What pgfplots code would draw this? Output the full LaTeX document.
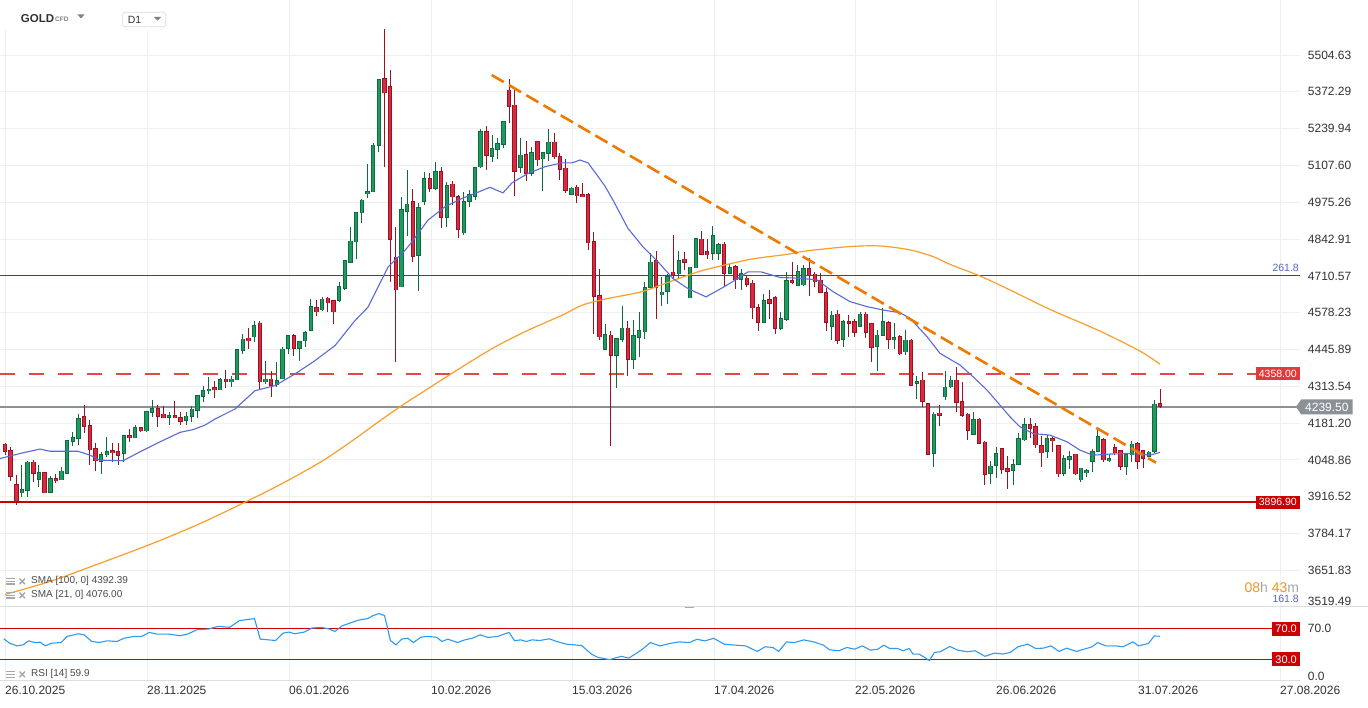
\documentclass[border=0pt]{standalone}
\usepackage{fontspec}
\setmainfont{Liberation Sans}
\usepackage{pgfplots}
\pgfplotsset{compat=1.18}
\usepackage{pgfplotstable}
\usetikzlibrary{shapes.symbols}
\definecolor{gbody}{HTML}{1E9A60}
\definecolor{gedge}{HTML}{0D6B3E}
\definecolor{rbody}{HTML}{DA2A3F}
\definecolor{redge}{HTML}{9A1222}
\definecolor{smablue}{HTML}{5A6AD6}
\definecolor{smaorange}{HTML}{FA9E2A}
\definecolor{trendorange}{HTML}{F07A00}
\definecolor{rsiblue}{HTML}{2E9BF0}
\definecolor{fibnavy}{HTML}{34439A}
\definecolor{fibtext}{HTML}{5566C8}
\definecolor{pricegrey}{HTML}{8A9297}
\definecolor{lvlred}{HTML}{CC0000}
\definecolor{dashred}{HTML}{E24848}
\definecolor{boxred}{HTML}{E23A3A}
\definecolor{gridgrey}{HTML}{EFEFEF}
\definecolor{sepgrey}{HTML}{DDDDDD}
\definecolor{tickgrey}{HTML}{333333}
\definecolor{legtext}{HTML}{4A4A4A}
\definecolor{iconGrey}{HTML}{A8A8A8}
\definecolor{timerorange}{HTML}{F7931E}

\pgfplotstableread{
o h l c
4106 4110 4066 4078
4084 4096 3974 3988
3960 3994 3888 3898
3930 4030 3916 3944
3938 4044 3916 4042
4042 4048 3970 4000
3978 4030 3952 4004
4004 4004 3930 3930
3932 3990 3930 3983
3983 4000 3966 3974
3976 4022 3976 4010
4000 4122 4000 4120
4114 4150 4098 4130
4126 4214 4102 4198
4206 4246 4146 4168
4174 4192 4030 4084
4090 4108 4010 4044
4042 4077 4000 4068
4066 4130 4060 4080
4084 4108 4042 4074
4080 4108 4030 4064
4072 4140 4042 4138
4138 4160 4114 4128
4128 4174 4126 4166
4166 4168 4150 4152
4152 4224 4150 4224
4218 4266 4204 4234
4234 4246 4166 4204
4214 4242 4198 4199
4202 4222 4176 4210
4210 4262 4198 4199
4202 4222 4176 4186
4190 4222 4174 4208
4204 4242 4184 4232
4226 4284 4198 4282
4276 4316 4256 4300
4296 4348 4286 4305
4310 4334 4270 4300
4300 4344 4300 4338
4340 4372 4308 4328
4328 4352 4310 4340
4336 4448 4336 4446
4442 4500 4430 4484
4488 4524 4448 4476
4490 4550 4472 4532
4542 4548 4304 4328
4328 4404 4322 4340
4340 4370 4274 4316
4318 4402 4310 4334
4340 4454 4340 4448
4448 4498 4430 4496
4496 4502 4424 4448
4450 4478 4406 4476
4476 4514 4454 4508
4514 4628 4514 4600
4598 4624 4568 4580
4588 4636 4586 4628
4632 4634 4580 4612
4622 4624 4538 4580
4622 4688 4616 4672
4664 4768 4660 4766
4758 4888 4756 4836
4832 4940 4770 4938
4936 4987 4900 4984
5004 5112 4990 5014
5012 5188 5012 5182
5178 5418 5156 5416
5420 5598 5102 5368
5392 5450 4688 4842
4779 4886 4401 4659
4670 4994 4670 4950
4941 5091 4853 4969
4979 5023 4761 4779
4783 4973 4657 4957
4977 5085 4967 5061
5061 5079 5013 5025
5025 5119 5019 5087
5087 5101 4881 4921
4921 5049 4887 5037
5041 5051 4965 4993
4997 5001 4845 4877
4865 5013 4857 4979
4977 5021 4959 5003
4995 5103 4985 5101
5101 5239 5097 5231
5231 5249 5091 5143
5139 5217 5121 5169
5165 5205 5131 5187
5183 5267 5169 5267
5379 5419 5261 5319
5325 5379 4997 5085
5099 5205 5079 5145
5147 5195 5053 5079
5079 5173 5069 5155
5195 5195 5105 5127
5131 5155 5017 5155
5151 5237 5125 5193
5193 5225 5131 5137
5141 5151 5055 5093
5099 5129 5009 5017
5003 5031 5001 5027
5031 5037 4971 4997
5003 5043 4995 4995
5003 5007 4803 4829
4835 4867 4503 4635
4641 4735 4479 4491
4445 4537 4445 4501
4499 4511 4099 4423
4423 4487 4309 4485
4481 4601 4473 4523
4523 4549 4351 4409
4409 4551 4377 4497
4489 4581 4419 4515
4509 4689 4485 4669
4669 4793 4669 4761
4767 4799 4557 4669
4641 4705 4601 4653
4653 4717 4611 4709
4725 4857 4701 4713
4717 4799 4701 4767
4771 4795 4731 4759
4631 4743 4631 4743
4739 4845 4739 4845
4843 4871 4785 4787
4799 4843 4771 4785
4791 4889 4769 4857
4791 4829 4767 4823
4825 4833 4673 4719
4719 4755 4717 4741
4745 4749 4663 4695
4697 4735 4661 4719
4703 4713 4669 4679
4685 4695 4555 4595
4597 4609 4511 4543
4543 4647 4543 4623
4627 4661 4557 4611
4633 4637 4503 4521
4521 4581 4515 4557
4553 4725 4549 4695
4695 4761 4683 4685
4675 4749 4675 4727
4677 4749 4675 4737
4738 4774 4640 4714
4718 4726 4672 4688
4696 4720 4648 4650
4652 4666 4514 4542
4528 4584 4480 4570
4574 4588 4466 4478
4482 4552 4456 4548
4548 4570 4492 4538
4548 4556 4492 4506
4528 4580 4528 4574
4574 4580 4486 4506
4540 4542 4402 4452
4456 4516 4370 4498
4496 4594 4494 4548
4544 4550 4448 4482
4480 4540 4446 4490
4494 4498 4426 4430
4436 4516 4426 4480
4480 4484 4316 4316
4324 4350 4268 4332
4336 4364 4240 4258
4252 4254 4066 4068
4072 4220 4024 4214
4218 4246 4172 4208
4274 4368 4264 4312
4310 4350 4308 4336
4336 4384 4222 4254
4260 4328 4204 4208
4214 4216 4120 4154
4140 4220 4138 4194
4196 4198 4106 4108
4114 4116 3960 3996
4000 4044 3964 4028
4028 4096 3984 4072
4090 4090 4000 4014
4018 4062 3946 4006
4010 4054 3958 4032
4032 4146 4032 4126
4120 4198 4116 4176
4176 4200 4126 4162
4170 4180 4092 4102
4102 4134 4024 4074
4078 4138 4056 4126
4126 4132 4078 4118
4102 4102 3988 3998
4000 4066 3990 4054
4050 4080 4018 4062
4070 4070 3994 3998
3976 4020 3970 4020
4002 4018 3986 4012
4042 4090 4006 4080
4078 4168 4078 4134
4122 4126 4042 4048
4046 4070 4042 4054
4094 4106 4066 4074
4084 4084 4012 4024
4024 4074 3996 4068
4066 4118 4042 4106
4108 4114 4018 4042
4084 4084 4020 4054
4060 4082 4058 4078
4078 4266 4074 4250
4252 4304 4234 4240
}\candles

\pgfplotsset{
  wick/.style={draw=none, mark=none, forget plot,
    error bars/.cd, y dir=both, y explicit, error mark=none,
    error bar style={line width=1pt, color=#1}},
  body/.style 2 args={draw=none, mark=none, forget plot,
    error bars/.cd, y dir=both, y explicit, error mark=none,
    error bar style={line width=#2, color=#1}},
}

\begin{document}
\begin{tikzpicture}[x=1pt,y=1pt]
\path[use as bounding box, fill=white] (0pt,0pt) rectangle (1368pt,707pt);

% ---------------- price panel ----------------
\begin{axis}[
  at={(0pt,100.7pt)}, anchor=south west, scale only axis,
  width=1300pt, height=606.3pt,
  xmin=0, xmax=1300, ymin=3522.7, ymax=5702.4,
  clip=false,
  axis line style={draw=none},
  tick style={draw=none}, major tick length=0pt,
  xtick={5,147,289,431,572,714,855,996,1138,1280},
  xticklabels={},
  ytick={3651.83,3784.17,3916.52,4048.86,4181.20,4313.54,4445.89,4578.23,4710.57,4842.91,4975.26,5107.60,5239.94,5372.29,5504.63},
  yticklabels={3651.83,3784.17,3916.52,4048.86,4181.20,4313.54,4445.89,4578.23,4710.57,4842.91,4975.26,5107.60,5239.94,5372.29,5504.63},
  yticklabel pos=right,
  yticklabel style={anchor=west, inner sep=0pt, xshift=7.7pt,
    font=\fontsize{12}{14}\selectfont, text=tickgrey},
  xmajorgrids, ymajorgrids,
  grid style={gridgrey, line width=1pt},
]
% horizontal levels
\addplot[fibnavy, line width=1.2pt, forget plot] coordinates {(0,4710.57) (1300,4710.57)};
\addplot[dashred, line width=1.2pt, dash pattern=on 15pt off 14pt, forget plot] coordinates {(0,4358) (1300,4358)};
\addplot[pricegrey, line width=1.2pt, forget plot] coordinates {(0,4239.5) (1300,4239.5)};
\addplot[lvlred, line width=1.6pt, forget plot] coordinates {(0,3896.9) (1300,3896.9)};

% candles: wicks
\addplot[wick=gedge] table[x expr={5+\coordindex*5.663},
  y expr={(\thisrow{h}+\thisrow{l})/2}, y error expr={(\thisrow{h}-\thisrow{l})/2},
  restrict expr to domain={\thisrow{c}-\thisrow{o}}{0:100000}] {\candles};
\addplot[wick=redge] table[x expr={5+\coordindex*5.663},
  y expr={(\thisrow{h}+\thisrow{l})/2}, y error expr={(\thisrow{h}-\thisrow{l})/2},
  restrict expr to domain={\thisrow{c}-\thisrow{o}}{-100000:-0.5}] {\candles};
% candles: bodies
\addplot[body={gedge}{4.4pt}] table[x expr={5+\coordindex*5.663},
  y expr={(\thisrow{o}+\thisrow{c})/2}, y error expr={abs(\thisrow{c}-\thisrow{o})/2+0.6},
  restrict expr to domain={\thisrow{c}-\thisrow{o}}{0:100000}] {\candles};
\addplot[body={gbody}{2.4pt}] table[x expr={5+\coordindex*5.663},
  y expr={(\thisrow{o}+\thisrow{c})/2}, y error expr={abs(\thisrow{c}-\thisrow{o})/2-1.5},
  restrict expr to domain={\thisrow{c}-\thisrow{o}}{3:100000}] {\candles};
\addplot[body={redge}{4.4pt}] table[x expr={5+\coordindex*5.663},
  y expr={(\thisrow{o}+\thisrow{c})/2}, y error expr={abs(\thisrow{c}-\thisrow{o})/2+0.6},
  restrict expr to domain={\thisrow{c}-\thisrow{o}}{-100000:-0.5}] {\candles};
\addplot[body={rbody}{2.4pt}] table[x expr={5+\coordindex*5.663},
  y expr={(\thisrow{o}+\thisrow{c})/2}, y error expr={abs(\thisrow{c}-\thisrow{o})/2-1.5},
  restrict expr to domain={\thisrow{c}-\thisrow{o}}{-100000:-3}] {\candles};

% SMA 100
\addplot[smaorange, line width=1.2pt, smooth, forget plot] coordinates {
(5,3565)(50,3612)(90,3664)(150,3745)(200,3820)(245,3897)(280,3960)(320,4040)(350,4112)
(382,4195)(405,4252)(428,4305)(462,4383)(495,4455)(528,4515)(562,4569)(582,4605)(605,4627)
(641,4653)(665,4683)(698,4725)(731,4755)(755,4773)(785,4787)(808,4801)(850,4816)(880,4818)
(910,4804)(933,4780)(950,4752)(980,4710)(1010,4660)(1050,4590)(1100,4512)(1140,4440)(1160,4393)};
% SMA 21
\addplot[smablue, line width=1.1pt, forget plot] coordinates {
(0,4054)(20,4072)(40,4088)(50,4080)(78,4080)(90,4066)(100,4048)(123,4046)(140,4078)(160,4114)
(180,4148)(193,4158)(205,4174)(215,4196)(235,4232)(255,4298)(275,4316)(295,4358)(315,4406)
(335,4460)(355,4550)(368,4598)(378,4670)(388,4742)(395,4767)(405,4802)(412,4833)(428,4911)
(445,4959)(462,4989)(475,5007)(490,5029)(503,5009)(512,5045)(528,5079)(545,5103)(562,5117)
(572,5117)(580,5127)(588,5117)(597,5073)(605,5033)(613,4983)(628,4881)(643,4815)(658,4761)
(673,4701)(688,4665)(706,4635)(721,4665)(735,4695)(748,4725)(761,4725)(780,4705)(800,4702)
(817,4696)(833,4654)(850,4618)(867,4600)(883,4588)(900,4578)(910,4558)(927,4492)(940,4432)
(960,4390)(973,4348)(987,4300)(1000,4246)(1010,4204)(1020,4168)(1033,4144)(1050,4138)
(1067,4114)(1080,4084)(1093,4066)(1110,4070)(1127,4072)(1140,4070)(1150,4066)(1160,4076)};
% trend line
\addplot[trendorange, line width=2.6pt, dash pattern=on 14pt off 6pt, forget plot] coordinates {(491.7,5432.7) (1156,4039)};

% level labels
\node[anchor=east, inner sep=0pt, text=fibtext, font=\fontsize{10.5}{12}\selectfont] at (axis cs:1299,4737.8) {261.8};
\node[anchor=east, fill=boxred, text=white, inner xsep=3pt, inner ysep=0pt, minimum height=13pt,
  font=\fontsize{10.5}{12}\selectfont] at (axis cs:1300,4358) {4358.00};
\node[anchor=east, fill=lvlred, text=white, inner xsep=3pt, inner ysep=0pt, minimum height=13pt,
  font=\fontsize{10.5}{12}\selectfont] at (axis cs:1300,3896.9) {3896.90};
\node[signal, signal to=west, signal pointer angle=110, fill=pricegrey, text=white,
  inner xsep=4pt, inner ysep=0pt, minimum height=15pt, anchor=west,
  font=\fontsize{12}{14}\selectfont] at (axis cs:1295.7,4239.5) {4239.50};
\end{axis}

% ---------------- RSI panel ----------------
\begin{axis}[
  at={(0pt,26.7pt)}, anchor=south west, scale only axis,
  width=1300pt, height=74pt,
  xmin=0, xmax=1300, ymin=2.6, ymax=99.3,
  clip=false,
  axis line style={draw=none},
  tick style={draw=none}, major tick length=0pt,
  xtick={5,147,289,431,572,714,855,996,1138,1280},
  xticklabels={26.10.2025,28.11.2025,06.01.2026,10.02.2026,15.03.2026,17.04.2026,22.05.2026,26.06.2026,31.07.2026,27.08.2026},
  xticklabel style={anchor=west, inner sep=0pt, yshift=-9.7pt,
    font=\fontsize{12}{14}\selectfont, text=tickgrey},
  ytick={70}, yticklabels={70.0},
  yticklabel pos=right,
  yticklabel style={anchor=west, inner sep=0pt, xshift=7.7pt,
    font=\fontsize{12}{14}\selectfont, text=tickgrey},
  xmajorgrids,
  grid style={gridgrey, line width=1pt},
]
\addplot[lvlred, line width=1.3pt, forget plot] coordinates {(0,70) (1300,70)};
\addplot[lvlred, line width=1.3pt, forget plot] coordinates {(0,30) (1300,30)};
\addplot[rsiblue, line width=1.1pt, forget plot] coordinates {
(3.8,56.8)(9.6,51.1)(17.2,47.6)(23,48.9)(28.7,54.2)(34.4,52)(40.2,52.4)(45.2,47.6)(51.7,51.1)
(61.2,52)(67,59.9)(78.5,63.4)(84.2,62)(91.8,53.3)(99.5,52)(107.2,54.2)(116.7,53.3)(124.4,57.7)
(134,59.9)(141.6,59.9)(149.3,65.2)(156.9,63)(168.4,63)(179.9,60.8)(187.5,63)(197.1,68.7)
(208.6,69.6)(218.1,73.1)(229.6,71.8)(239.2,80.5)(246.8,81.9)(254.5,83.2)(260.2,56.4)(267.9,55.5)
(275.5,54.6)(283.2,64.3)(288.9,65.6)(294.7,63.4)(304.2,65.6)(311.9,70.9)(321.5,71.8)(329.1,69.6)
(334.9,66.5)(342.5,74)(350.2,77.5)(357.8,81)(367.4,83.2)(373.1,87.1)(378.9,89.8)(384.6,87.1)
(390.4,54.6)(396.1,48.9)(401.8,56.4)(407.6,57.7)(413.3,52)(421,59)(426.7,59.9)(436.3,59)
(442,53.3)(447.8,56.4)(457.3,52)(465,55.5)(472.6,57.7)(480.3,62.1)(487.9,58.6)(497.5,59.9)
(509,65.2)(514.7,54.2)(520.5,55.5)(526.2,53.3)(532,55.5)(539.6,54.6)(549.2,56.8)(556.8,53.3)
(566.4,49.8)(581.7,48)(591.3,37)(597.8,32.6)(609.5,29.6)(621.1,33.9)(628.9,31.7)(636.7,38.2)
(642.5,43.3)(650.3,51.9)(660,47.6)(669.8,50.7)(679.5,52.8)(689.2,51.9)(697,56.2)(704.8,54.1)
(713.7,57.5)(724.2,49.8)(735.9,48.5)(745.6,47.6)(757.3,40.3)(765.1,46.4)(772.9,45.5)(778.7,40.3)
(786.5,52.8)(794.3,51.9)(804,55.4)(813.7,52.8)(823.5,48.5)(829.3,42.5)(839,41.2)(846.8,45.5)
(854.6,43.3)(862.4,47.6)(870.2,42)(877.9,43.3)(883.8,48.5)(889.6,44.2)(897.4,44.2)(903.2,41.2)
(909.1,44.2)(913,36.9)(918.8,36.9)(924.6,32.6)(929.3,28.3)(934.4,39)(940.2,39.9)(949.9,46.8)
(957.7,42)(967.4,39.9)(975.2,41.2)(984.9,33.9)(994.7,38.2)(1002.5,36.9)(1010.2,39)(1018,46.4)
(1027.7,49.8)(1035.5,44.2)(1043.3,44.6)(1051.1,47.6)(1058.9,40.3)(1066.6,44.6)(1076.4,40.3)
(1084.2,43.3)(1092,46.4)(1097.8,51.9)(1105.6,47.6)(1115.3,47.6)(1123.1,46.4)(1132.8,52.8)
(1138.6,47.6)(1148.4,50.7)(1154.2,60.5)(1160,60.2)};
\node[anchor=east, fill=lvlred, text=white, inner xsep=3pt, inner ysep=0pt, minimum height=14pt,
  font=\fontsize{11}{12}\selectfont] at (axis cs:1300,70) {70.0};
\node[anchor=east, fill=lvlred, text=white, inner xsep=3pt, inner ysep=0pt, minimum height=14pt,
  font=\fontsize{11}{12}\selectfont] at (axis cs:1300,30) {30.0};
\end{axis}

% separators
\draw[sepgrey, line width=1pt] (0,100.7) -- (1368,100.7);
\draw[sepgrey, line width=1pt] (0,26.7) -- (1300,26.7);
\fill[iconGrey] (685,98.5) rectangle (694,100.2);

% extra right-side labels
\node[anchor=west, inner sep=0pt, text=tickgrey, font=\fontsize{12}{14}\selectfont] at (1307.7,105.7) {3519.49};
\node[anchor=west, inner sep=0pt, text=tickgrey, font=\fontsize{12}{14}\selectfont] at (1307.7,30.7) {0.0};
\node[anchor=east, inner sep=0pt, font=\fontsize{14}{16}\selectfont] at (1299.3,120)
  {\textcolor{timerorange}{08}\textcolor{iconGrey}{h} \textcolor{timerorange}{43}\textcolor{iconGrey}{m}};
\node[anchor=east, inner sep=0pt, text=fibtext, font=\fontsize{10.5}{12}\selectfont] at (1299,107.7) {161.8};

% header
\fill[white] (0,677) rectangle (200,707);
\node[anchor=west, inner sep=0pt, text=tickgrey, font=\fontsize{11.5}{13}\bfseries] at (20.7,688.7) {GOLD};
\node[anchor=west, inner sep=0pt, text=gray, font=\fontsize{6.5}{8}\bfseries] at (55,688) {CFD};
\fill[gray] (77.5,692.5) -- (84.5,692.5) -- (81,688.5) -- cycle;
\draw[sepgrey, line width=0.8pt, rounded corners=1.5pt] (122.7,694.7) rectangle (165.7,680.3);
\node[anchor=west, inner sep=0pt, text=tickgrey, font=\fontsize{10.5}{12}\selectfont] at (127.7,687.3) {D1};
\fill[gray] (154,690) -- (161,690) -- (157.5,686.3) -- cycle;

% legend
\foreach \yy/\txt in {125.7/{SMA [100, 0] 4392.39}, 111.7/{SMA [21, 0] 4076.00}, 32.7/{RSI [14] 59.9}} {
  \fill[iconGrey] (6,\yy+2.2) rectangle (15,\yy+3.4);
  \fill[iconGrey] (6,\yy-0.6) rectangle (15,\yy+0.6);
  \fill[iconGrey] (6,\yy-3.4) rectangle (15,\yy-2.2);
  \draw[iconGrey, line width=1.4pt] (19.5,\yy-2.8) -- (25,\yy+2.8) (19.5,\yy+2.8) -- (25,\yy-2.8);
  \node[anchor=west, inner sep=0pt, text=legtext, font=\fontsize{10}{12}\selectfont] at (31,\yy) {\txt};
}
\end{tikzpicture}
\end{document}
